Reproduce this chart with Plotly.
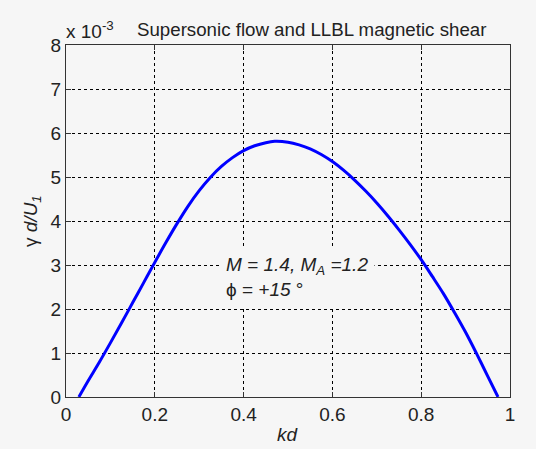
import plotly.graph_objects as go

# Data (growth rate gamma*d/U1 in units of 1e-3)
kd = [0.029, 0.05, 0.075, 0.10, 0.125, 0.15, 0.175, 0.20, 0.225, 0.25,
      0.275, 0.30, 0.325, 0.35, 0.375, 0.40, 0.425, 0.45, 0.47, 0.50,
      0.525, 0.55, 0.575, 0.60, 0.625, 0.65, 0.675, 0.70, 0.725, 0.75,
      0.775, 0.80, 0.825, 0.85, 0.875, 0.90, 0.925, 0.95, 0.973]
gamma = [0.0, 0.37, 0.79, 1.23, 1.68, 2.14, 2.60, 3.06, 3.51, 3.94,
         4.34, 4.69, 4.99, 5.24, 5.44, 5.60, 5.71, 5.78, 5.81, 5.79,
         5.73, 5.64, 5.51, 5.35, 5.155, 4.93, 4.68, 4.41, 4.115, 3.80,
         3.47, 3.12, 2.74, 2.35, 1.92, 1.47, 0.98, 0.47, 0.0]

x_ticks = [0, 0.2, 0.4, 0.6, 0.8, 1]
x_ticklabels = ["0", "0.2", "0.4", "0.6", "0.8", "1"]
y_ticks = [0, 1, 2, 3, 4, 5, 6, 7, 8]

FONT = "Liberation Sans, Arial, sans-serif"
BG = "#f6f6f6"
TXT = "#222222"
FS = 19

fig = go.Figure()
fig.add_trace(go.Scatter(x=kd, y=gamma, mode="lines",
                         line=dict(color="#0000ff", width=3, shape="spline", smoothing=1.0),
                         showlegend=False))

axis_common = dict(showline=True, linecolor="#333333", linewidth=1, mirror="ticks",
                   ticks="inside", ticklen=5, tickcolor="#333333",
                   showgrid=True, gridcolor="black", griddash="dot", gridwidth=1,
                   zeroline=False, tickfont=dict(family=FONT, size=FS, color=TXT))

fig.update_xaxes(range=[0, 1], tickvals=x_ticks, ticktext=x_ticklabels, **axis_common)
fig.update_yaxes(range=[0, 8], tickvals=y_ticks, **axis_common)

fig.update_layout(
    width=536, height=449,
    margin=dict(l=66, r=26, t=45, b=52),
    paper_bgcolor=BG, plot_bgcolor=BG,
    font=dict(family=FONT, size=FS, color=TXT),
    annotations=[
        dict(text="Supersonic flow and LLBL magnetic shear", x=0.554, y=1.0, xref="paper", yref="paper",
             xanchor="center", yanchor="bottom", yshift=3, showarrow=False,
             font=dict(family=FONT, size=18.7, color=TXT)),
        dict(text="x 10<sup>-3</sup>", x=0.0, y=1.0, xref="paper", yref="paper",
             xanchor="left", yanchor="bottom", yshift=1, xshift=-2, showarrow=False,
             font=dict(family=FONT, size=FS, color=TXT)),
        dict(text="<i>M = 1.4, M<sub>A</sub> =1.2</i><br>ϕ = <i>+15</i> °", x=0.345, y=3.0, xref="x", yref="y",
             xanchor="left", yanchor="top", yshift=18, showarrow=False, align="left",
             bgcolor=BG, borderpad=6,
             font=dict(family=FONT, size=FS, color=TXT)),
        dict(text="<i>kd</i>", x=0.5, y=0, xref="paper", yref="paper",
             xanchor="center", yanchor="top", yshift=-25, showarrow=False,
             font=dict(family=FONT, size=FS, color=TXT)),
        dict(text="γ <i>d/U<sub>1</sub></i>", x=0, y=0.5, xref="paper", yref="paper",
             xanchor="right", yanchor="middle", xshift=-20, textangle=-90, showarrow=False,
             font=dict(family=FONT, size=FS, color=TXT)),
    ],
)

fig.write_html("out.html")
